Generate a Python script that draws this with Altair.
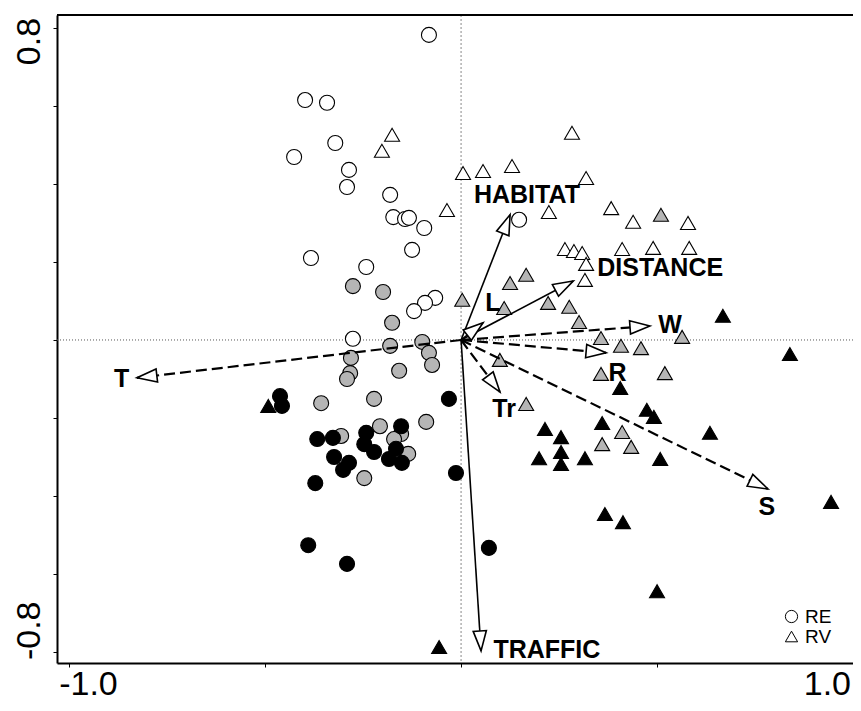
import altair as alt
import pandas as pd
import numpy as np

# ---------------- data ----------------
# RE sites (circles)
re_white_x = [-0.082, -0.398, -0.342, -0.321, -0.426, -0.286, -0.291, -0.181, -0.173, -0.143,
              -0.133, -0.094, -0.125, 0.148, -0.383, -0.242, -0.066, -0.092, -0.120, -0.276]
re_white_y = [0.782, 0.615, 0.608, 0.505, 0.469, 0.436, 0.392, 0.372, 0.315, 0.310,
              0.313, 0.287, 0.231, 0.308, 0.210, 0.187, 0.108, 0.095, 0.074, 0.003]
re_grey_x = [-0.276, -0.199, -0.176, -0.181, -0.099, -0.082, -0.074, -0.281, -0.283, -0.291,
             -0.158, -0.357, -0.222, -0.207, -0.089, -0.306, -0.153, -0.171, -0.135, -0.247]
re_grey_y = [0.138, 0.123, 0.044, -0.015, -0.005, -0.033, -0.064, -0.046, -0.085, -0.100,
             -0.079, -0.162, -0.151, -0.221, -0.210, -0.246, -0.241, -0.254, -0.292, -0.354]
re_black_x = [-0.462, -0.457, -0.031, -0.367, -0.327, -0.242, -0.153, -0.247, -0.222, -0.166,
              -0.184, -0.151, -0.324, -0.286, -0.301, -0.372, -0.013, -0.390, -0.291, 0.071]
re_black_y = [-0.144, -0.169, -0.151, -0.254, -0.251, -0.238, -0.221, -0.267, -0.287, -0.279,
              -0.305, -0.315, -0.300, -0.315, -0.333, -0.367, -0.341, -0.526, -0.574, -0.533]
# RV sites (triangles)
rv_white_x = [-0.176, -0.202, -0.036, 0.005, 0.056, 0.130, 0.283, 0.319, 0.224, 0.383,
              0.439, 0.579, 0.265, 0.288, 0.309, 0.319, 0.316, 0.411, 0.490, 0.582]
rv_white_y = [0.526, 0.485, 0.333, 0.428, 0.433, 0.446, 0.531, 0.415, 0.328, 0.338,
              0.303, 0.300, 0.233, 0.228, 0.223, 0.195, 0.154, 0.233, 0.236, 0.236]
rv_grey_x = [0.510, 0.003, 0.125, 0.166, 0.110, 0.222, 0.276, 0.301, 0.357, 0.408,
             0.459, 0.564, 0.099, 0.357, 0.520, 0.166, 0.411, 0.360, 0.434]
rv_grey_y = [0.321, 0.103, 0.146, 0.167, 0.082, 0.095, 0.085, 0.046, 0.005, -0.015,
             -0.021, 0.008, -0.051, -0.087, -0.085, -0.164, -0.236, -0.267, -0.274]
rv_black_x = [0.668, 0.839, 0.406, 0.474, 0.492, 0.360, 0.635, 0.508, 0.944, 0.367,
              0.413, 0.214, 0.255, 0.255, 0.199, 0.255, 0.316, 0.500, -0.492, -0.056]
rv_black_y = [0.062, -0.036, -0.123, -0.179, -0.197, -0.213, -0.238, -0.305, -0.415, -0.446,
              -0.467, -0.228, -0.249, -0.287, -0.303, -0.318, -0.303, -0.644, -0.169, -0.787]

# environmental vectors
arrow_names = ["HABITAT", "DISTANCE", "L", "W", "R", "Tr", "S", "T", "TRAFFIC"]
arrow_x = [0.125, 0.286, 0.056, 0.482, 0.370, 0.099, 0.783, -0.827, 0.051]
arrow_y = [0.321, 0.151, 0.044, 0.036, -0.033, -0.133, -0.382, -0.097, -0.797]
arrow_dashed = [False, False, False, True, True, True, True, True, False]
label_x = [0.168, 0.508, 0.081, 0.533, 0.399, 0.110, 0.780, -0.866, 0.219]
label_y = [0.372, 0.185, 0.094, 0.038, -0.084, -0.177, -0.429, -0.101, -0.795]

x_tick_values = [-1.0, -0.5, 0.0, 0.5, 1.0]
y_tick_values = [-0.8, -0.6, -0.4, -0.2, 0.0, 0.2, 0.4, 0.6, 0.8]

# ---------------- layout ----------------
W, H = 796, 648
XD = [-1.031, 1.0]
YD = [-0.828, 0.833]
FONT = "Liberation Sans"

rows = []
for site, shade, xs, ys in [("RE", "white", re_white_x, re_white_y),
                            ("RE", "grey", re_grey_x, re_grey_y),
                            ("RE", "black", re_black_x, re_black_y),
                            ("RV", "white", rv_white_x, rv_white_y),
                            ("RV", "grey", rv_grey_x, rv_grey_y),
                            ("RV", "black", rv_black_x, rv_black_y)]:
    for a, b in zip(xs, ys):
        rows.append({"x": a, "y": b, "site": site, "shade": shade})
pts_df = pd.DataFrame(rows)

px_x = W / (XD[1] - XD[0])
px_y = H / (YD[1] - YD[0])
arr_df = pd.DataFrame({
    "name": arrow_names, "x": arrow_x, "y": arrow_y,
    "x0": [0.0] * len(arrow_x), "y0": [0.0] * len(arrow_x),
    "dashed": arrow_dashed, "lx": label_x, "ly": label_y,
})
arr_df["ang"] = (np.degrees(np.arctan2(-arr_df["y"] * px_y, arr_df["x"] * px_x)) + 360) % 360

xscale = alt.Scale(domain=XD, nice=False, zero=False)
yscale = alt.Scale(domain=YD, nice=False, zero=False)
xaxis = alt.Axis(values=x_tick_values, labels=False, title=None, domain=True, domainColor="black",
                 domainWidth=2, grid=False, ticks=True, tickSize=4, tickColor="black", tickWidth=1)
yaxis = alt.Axis(values=y_tick_values, labels=False, title=None, domain=True, domainColor="black",
                 domainWidth=2, grid=False, ticks=True, tickSize=4, tickColor="black", tickWidth=1)

X = lambda f: alt.X(f, scale=xscale, axis=xaxis, title=None)
Y = lambda f: alt.Y(f, scale=yscale, axis=yaxis, title=None)

zero_df = pd.DataFrame({"v": [0.0]})
vline = alt.Chart(zero_df).mark_rule(color="#888888", strokeDash=[2, 2], strokeWidth=1).encode(x=X("v:Q"))
hline = alt.Chart(zero_df).mark_rule(color="#555555", strokeDash=[1, 2], strokeWidth=1).encode(y=Y("v:Q"))
# top border of the frame (the right border lies beyond the page edge in the reference)
topline = alt.Chart(zero_df).mark_rule(color="black", strokeWidth=2).encode(
    y=alt.value(0), x=alt.value(0), x2=alt.value(W))

points = alt.Chart(pts_df).mark_point(filled=True, size=225, stroke="black", strokeWidth=1.1,
                                      opacity=1, fillOpacity=1).encode(
    x=X("x:Q"), y=Y("y:Q"),
    shape=alt.Shape("site:N", scale=alt.Scale(domain=["RE", "RV"], range=["circle", "triangle-up"]),
                    legend=alt.Legend(title=None, orient="none", legendX=725, legendY=592,
                                      labelFontSize=19, labelFont=FONT, labelColor="black",
                                      symbolSize=150, symbolFillColor="white",
                                      symbolStrokeColor="black", symbolStrokeWidth=1,
                                      rowPadding=0, labelOffset=4)),
    fill=alt.Fill("shade:N", scale=alt.Scale(domain=["white", "grey", "black"],
                                             range=["#ffffff", "#b5b5b5", "#000000"]), legend=None),
)

solid = alt.Chart(arr_df).transform_filter("!datum.dashed").mark_rule(
    color="black", strokeWidth=1.6).encode(x=X("x0:Q"), y=Y("y0:Q"), x2="x:Q", y2="y:Q")
dashed = alt.Chart(arr_df).transform_filter("datum.dashed").mark_rule(
    color="black", strokeWidth=2.2, strokeDash=[11, 5]).encode(x=X("x0:Q"), y=Y("y0:Q"), x2="x:Q", y2="y:Q")

heads = alt.Chart(arr_df).mark_point(shape="M0,0L-1,-0.33L-1,0.33Z", size=1600, filled=True,
                                     fill="white", stroke="black", strokeWidth=1.6,
                                     opacity=1, fillOpacity=1).encode(
    x=X("x:Q"), y=Y("y:Q"), angle=alt.Angle("ang:Q", scale=None))

labels = alt.Chart(arr_df).mark_text(font=FONT, fontWeight="bold", fontSize=25, color="black",
                                     align="center", baseline="middle").encode(
    x=X("lx:Q"), y=Y("ly:Q"), text="name:N")

# axis tick labels
xl_lo = alt.Chart(pd.DataFrame({"v": [x_tick_values[0]], "t": ["-1.0"]})).mark_text(
    font=FONT, fontSize=34, align="left", baseline="alphabetic", dx=-10).encode(
    x=X("v:Q"), y=alt.value(680), text="t:N")
xl_hi = alt.Chart(pd.DataFrame({"v": [x_tick_values[-1]], "t": ["1.0"]})).mark_text(
    font=FONT, fontSize=34, align="right", baseline="alphabetic", dx=-2).encode(
    x=X("v:Q"), y=alt.value(680), text="t:N")
yl_hi = alt.Chart(pd.DataFrame({"v": [y_tick_values[-1]], "t": ["0.8"]})).mark_text(
    font=FONT, fontSize=34, align="right", baseline="alphabetic", angle=270, dx=10).encode(
    y=Y("v:Q"), x=alt.value(-17), text="t:N")
yl_lo = alt.Chart(pd.DataFrame({"v": [y_tick_values[0]], "t": ["-0.8"]})).mark_text(
    font=FONT, fontSize=34, align="left", baseline="alphabetic", angle=270, dx=-8).encode(
    y=Y("v:Q"), x=alt.value(-17), text="t:N")

chart = alt.layer(vline, hline, topline, points, solid, dashed, heads, labels,
                  xl_lo, xl_hi, yl_hi, yl_lo).properties(
    width=W, height=H,
    autosize=alt.AutoSizeParams(type="none"),
    padding={"left": 49, "top": 7, "right": 0, "bottom": 40},
    background="white",
).configure_view(stroke=None)

chart.save("out.html", embed_options={"renderer": "svg", "actions": False})
